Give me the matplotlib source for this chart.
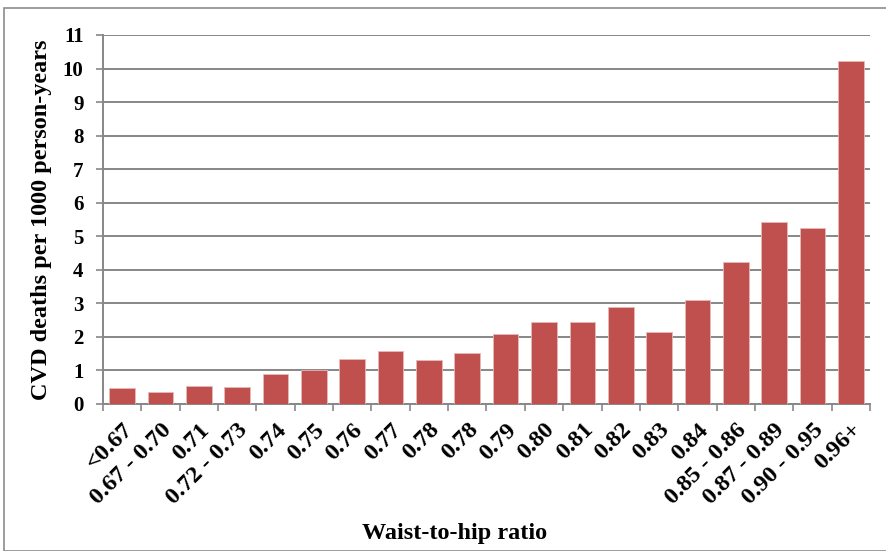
import matplotlib
matplotlib.use("Agg")
import matplotlib.pyplot as plt
from matplotlib.patches import Rectangle

categories = ["<0.67", "0.67 - 0.70", "0.71", "0.72 - 0.73", "0.74", "0.75", "0.76",
              "0.77", "0.78", "0.78", "0.79", "0.80", "0.81", "0.82", "0.83", "0.84",
              "0.85 - 0.86", "0.87 - 0.89", "0.90 - 0.95", "0.96+"]
deaths = [0.49, 0.37, 0.54, 0.52, 0.88, 1.00, 1.34, 1.59, 1.32, 1.51,
          2.10, 2.44, 2.45, 2.90, 2.15, 3.09, 4.22, 5.44, 5.25, 10.21]
yticks = list(range(0, 12))

plt.rcParams['font.family'] = ['Liberation Serif', 'DejaVu Serif']
plt.rcParams['font.weight'] = 'bold'

fig = plt.figure(figsize=(8.87, 5.51), dpi=100)
ax = fig.add_axes([0.1161, 0.2668, 0.8647, 0.6697])

grid_col = "#878787"
x = list(range(len(categories)))
ax.bar(x, deaths, width=0.67, color="#C0504D", edgecolor="#E6B9B8", linewidth=0.6, zorder=3)

ax.set_xlim(-0.5, len(categories) - 0.5)
ax.set_ylim(0, 11)
ax.set_yticks(yticks)
ax.set_yticklabels([str(t) for t in yticks], fontsize=15, fontweight='bold')
ax.yaxis.grid(True, color=grid_col, linewidth=1.4, zorder=0)
ax.set_axisbelow(True)

# category boundary ticks on the x axis
ax.set_xticks([i - 0.5 for i in range(len(categories) + 1)], minor=False)
ax.set_xticklabels([])
ax.set_xticks(x, minor=True)
ax.set_xticklabels(categories, minor=True, rotation=45, ha='right',
                   rotation_mode='anchor', fontsize=17.5, fontweight='bold')
ax.tick_params(axis='x', which='minor', length=0, pad=11)
ax.tick_params(axis='x', which='major', length=5, width=1.2, color=grid_col)
ax.tick_params(axis='y', length=5, width=1.2, color=grid_col, pad=9)

for s in ['top', 'right']:
    ax.spines[s].set_visible(False)
for s in ['left', 'bottom']:
    ax.spines[s].set_color(grid_col)
    ax.spines[s].set_linewidth(1.4)

ax.set_ylabel("CVD deaths per 1000 person-years", fontsize=17.5, fontweight='bold', labelpad=8)
fig.text(0.512, 0.031, "Waist-to-hip ratio", ha='center', va='center',
         fontsize=17.5, fontweight='bold')

fig.patches.append(Rectangle((0.004, 0.0), 1.2, 0.985, transform=fig.transFigure,
                             fill=False, edgecolor="#8c8c8c", linewidth=1.2))

fig.savefig("out.png", dpi=100)
